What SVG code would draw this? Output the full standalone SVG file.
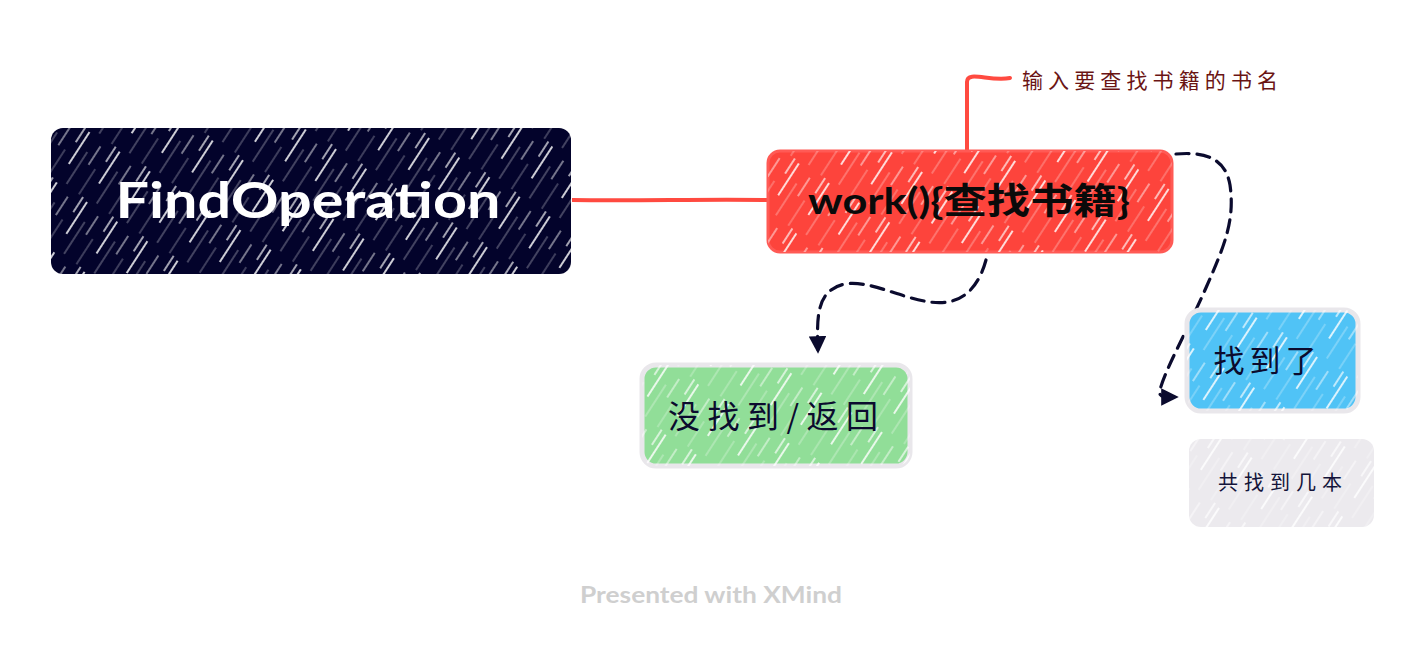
<svg xmlns="http://www.w3.org/2000/svg" width="1422" height="646" viewBox="0 0 1422 646">
<style>
.cjk{font-family:"Noto Sans CJK SC","Noto Sans",sans-serif}
.lat{font-family:Lato,"Noto Sans CJK SC",sans-serif;font-weight:700}
.dash{fill:none;stroke:#0b0b2e;stroke-width:3.2;stroke-dasharray:13 8;stroke-linecap:round}
</style>
<defs>
<pattern id="hatch" width="36" height="60" patternUnits="userSpaceOnUse" patternTransform="rotate(33)">
<line x1="3" y1="2" x2="3" y2="40" stroke="#ffffff" stroke-width="2" stroke-opacity="0.8"/>
<line x1="12" y1="20" x2="12" y2="58" stroke="#ffffff" stroke-width="1" stroke-opacity="0.5"/>
<line x1="20" y1="8" x2="20" y2="30" stroke="#ffffff" stroke-width="1.5" stroke-opacity="0.6"/>
<line x1="28" y1="30" x2="28" y2="60" stroke="#ffffff" stroke-width="1" stroke-opacity="0.45"/>
<line x1="33" y1="0" x2="33" y2="18" stroke="#ffffff" stroke-width="1.8" stroke-opacity="0.7"/>
</pattern>
<marker id="arr" viewBox="0 0 10 10" refX="9" refY="5" markerWidth="5.5" markerHeight="5.5" orient="auto" markerUnits="strokeWidth">
<path d="M0,0 L10,5 L0,10 Z" fill="#0b0b2e"/>
</marker>
</defs>
<rect width="1422" height="646" fill="#ffffff"/>
<g id="connectors">
<path d="M572,200 C640,201 700,199 768,200" fill="none" stroke="#ff4a40" stroke-width="4"/>
<path d="M967,150 L967,82 C967,70 990,82 1010,78" fill="none" stroke="#ff4a40" stroke-width="4" stroke-linecap="round"/>
<path class="dash" d="M986,260 C975,300 950,305 930,302 C900,298 870,280 845,284 C815,290 817,320 818,352" marker-end="url(#arr)"/>
<path class="dash" d="M1176,154 C1200,152 1225,155 1230,185 C1235,220 1225,245 1205,290 C1185,335 1165,370 1160,390 C1158,398 1165,397 1177,397" marker-end="url(#arr)"/>
</g>
<g id="callout">
<text class="cjk" x="1022" y="88" font-size="21" fill="#6a1414" textLength="256" lengthAdjust="spacing">输入要查找书籍的书名</text>
</g>
<g id="node-findoperation">
<rect x="51" y="128" width="520" height="146" rx="12" fill="#03032b"/>
<rect x="51" y="128" width="520" height="146" rx="12" fill="url(#hatch)"/>
<text class="lat" x="308" y="218" font-size="50" fill="#ffffff" text-anchor="middle" textLength="385" lengthAdjust="spacingAndGlyphs">FindOperation</text>
</g>
<g id="node-work">
<rect x="768" y="151" width="404" height="101" rx="12" fill="#fd443c" stroke="#ff5a55" stroke-width="3"/>
<rect x="768" y="151" width="404" height="101" rx="12" fill="url(#hatch)"/>
<text class="lat" x="969" y="214" font-size="36" fill="#0a0a0a" text-anchor="middle" textLength="322" lengthAdjust="spacingAndGlyphs">work(){查找书籍}</text>
</g>
<g id="node-notfound">
<rect x="642" y="365" width="268" height="101" rx="14" fill="#91de98" stroke="#e9e7eb" stroke-width="5"/>
<rect x="642" y="365" width="268" height="101" rx="14" fill="url(#hatch)"/>
<text class="cjk" x="773" y="428" font-size="32" fill="#0b0b2e" text-anchor="middle" textLength="210" lengthAdjust="spacing">没找到/返回</text>
</g>
<g id="node-found">
<rect x="1187" y="310" width="171" height="101" rx="14" fill="#50c3f6" stroke="#e9e7eb" stroke-width="5"/>
<rect x="1187" y="310" width="171" height="101" rx="14" fill="url(#hatch)"/>
<text class="cjk" x="1265" y="372" font-size="31" fill="#0b0b2e" text-anchor="middle" textLength="103" lengthAdjust="spacing">找到了</text>
</g>
<g id="node-count">
<rect x="1189" y="439" width="185" height="88" rx="12" fill="#eceaee"/>
<rect x="1189" y="439" width="185" height="88" rx="12" fill="url(#hatch)"/>
<text class="cjk" x="1280" y="490" font-size="20" fill="#14143a" text-anchor="middle" textLength="124" lengthAdjust="spacing">共找到几本</text>
</g>
<text class="lat" x="711" y="603" font-size="23" fill="#cfcfcf" text-anchor="middle" textLength="262" lengthAdjust="spacingAndGlyphs">Presented with XMind</text>
</svg>
